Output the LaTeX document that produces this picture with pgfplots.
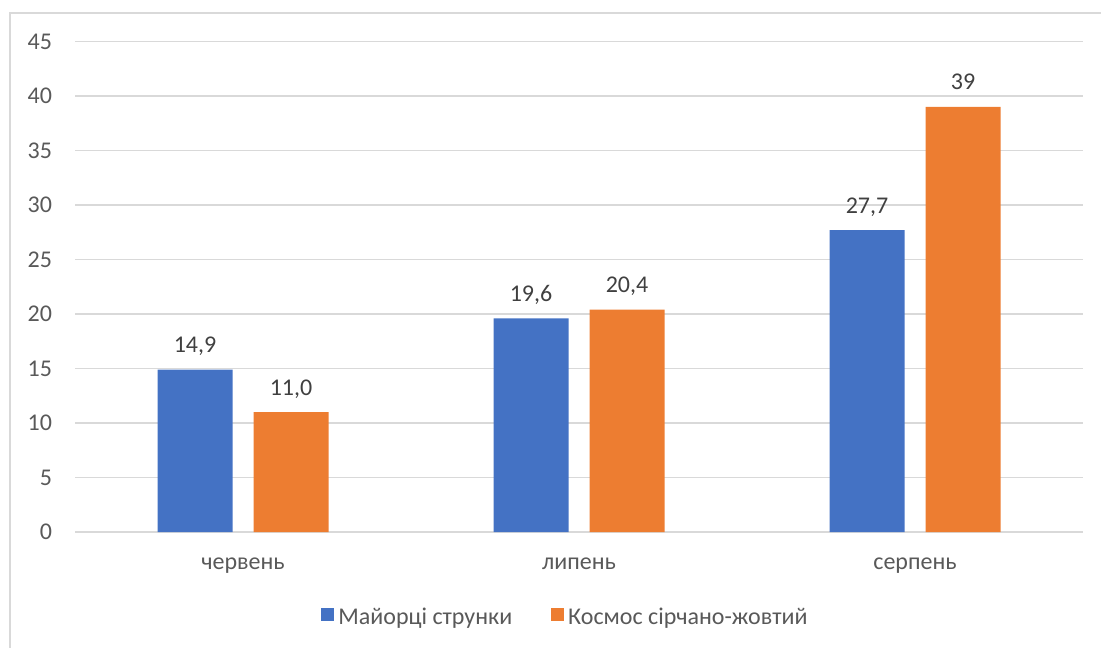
\documentclass[border=0pt]{standalone}
\usepackage{pgfplots}
\pgfplotsset{compat=1.18}
\usepackage{fontspec}
\setmainfont{Carlito}
\definecolor{serA}{HTML}{4472C4}
\definecolor{serB}{HTML}{ED7D31}
\definecolor{gridc}{HTML}{D9D9D9}
\definecolor{axtext}{HTML}{595959}
\definecolor{lbltext}{HTML}{404040}

\pgfplotstableread{
x y lbl
0 14.9 14,9
1 19.6 19,6
2 27.7 27,7
}\maiortsi
\pgfplotstableread{
x y lbl
0 11.0 11,0
1 20.4 20,4
2 39 39
}\kosmos

\begin{document}
\begin{tikzpicture}
\useasboundingbox (0,0) rectangle (550.5pt,323.5pt);
% chart frame
\draw[gridc, line width=0.6pt] (5pt,-10pt) -- (5pt,317pt) -- (560pt,317pt);
\begin{axis}[
  at={(37.5pt,57.5pt)}, anchor=south west,
  scale only axis, width=504pt, height=245.25pt,
  ymin=0, ymax=45, ytick={0,5,...,45},
  xmin=-0.5, xmax=2.5, xtick={0,1,2},
  xticklabels={червень,липень,серпень},
  ybar=10.5pt, bar width=37.5pt,
  axis line style={draw=none},
  ymajorgrids, grid style={gridc, line width=0.6pt},
  major tick length=0pt,
  tick label style={font=\fontsize{12}{14}\selectfont, color=axtext},
  yticklabel style={xshift=-8pt},
  xticklabel style={anchor=base, yshift=-18.7pt},
  /pgf/number format/assume math mode=true,
  clip=false,
  nodes near coords, point meta=explicit symbolic,
  every node near coord/.append style={font=\fontsize{12}{14}\selectfont,
    color=lbltext, anchor=base, yshift=8.5pt},
  legend columns=2,
  legend style={draw=none, at={(0.4876,-0.175)}, anchor=center,
    font=\fontsize{12}{14}\selectfont, text=axtext,
    /tikz/every even column/.append style={column sep=17.5pt}},
  legend image code/.code={\draw[#1, draw=none] (0pt,-1.5pt) rectangle (6.5pt,5pt);},
]
\addplot[fill=serA, draw=none] table[x=x, y=y, meta=lbl] {\maiortsi};
\addplot[fill=serB, draw=none] table[x=x, y=y, meta=lbl] {\kosmos};
\legend{Майорці струнки, Космос сірчано-жовтий}
\end{axis}
\end{tikzpicture}
\end{document}
